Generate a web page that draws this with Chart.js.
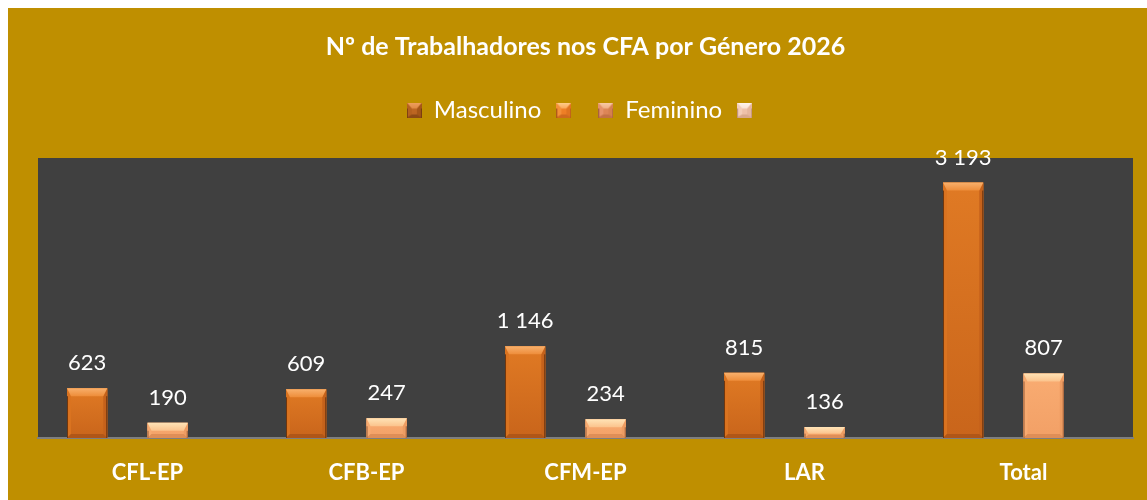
<!DOCTYPE html>
<html><head><meta charset="utf-8">
<script src="https://cdn.jsdelivr.net/npm/chart.js@4.4.1/dist/chart.umd.min.js"></script>
<style>
html,body{margin:0;padding:0;overflow:hidden;background:#fff;width:1147px;height:500px;}
#wrap{position:absolute;left:8px;top:8px;width:1154px;height:492px;background:#BF8F00;}
canvas{display:block;}
</style></head><body>
<div id="wrap"><canvas id="c" width="1154" height="492"></canvas></div>
<script>
// ---- data ----
const categories = ['CFL-EP', 'CFB-EP', 'CFM-EP', 'LAR', 'Total'];
const masculino = [623, 609, 1146, 815, 3193];
const serieVazia1 = [null, null, null, null, null];
const feminino = [190, 247, 234, 136, 807];
const serieVazia2 = [null, null, null, null, null];
const seriesLabels = ['Masculino', '', 'Feminino', ''];
const titleText = 'Nº de Trabalhadores nos CFA por Género 2026';
const yMin = 0;
const yMax = 3500;

// ---- styles ----
const FONT = 'Lato, "Open Sans", sans-serif';
const barPalettes = [
  {body1:'#E07A24', body2:'#C9651B', left:'#DA7320', right:'#C5621B', bottom:'#B05617', top1:'#F8B06C', top2:'#EE8D3A', edge:'#6E350E'},
  null,
  {body1:'#F9AC72', body2:'#F2A066', left:'#F7AA70', right:'#EE9C62', bottom:'#DF8E57', top1:'#FFE3B6', top2:'#FBC38C', edge:'#9A5C38'},
  null
];
const markerPalettes = [
  {body1:'#C46C27', body2:'#B8621F', left:'#B5611F', right:'#A55618', bottom:'#8E4A15', top1:'#EFA060', top2:'#E08A44', edge:'#7A3E10'},
  {body1:'#F2852A', body2:'#EC7C24', left:'#F39038', right:'#E07420', bottom:'#CF6A1E', top1:'#FFD08E', top2:'#FBA85A', edge:'#B05A18'},
  {body1:'#E28C5C', body2:'#DA8354', left:'#E5926A', right:'#D58050', bottom:'#C47246', top1:'#F9CCA8', top2:'#F0AE84', edge:'#A86040'},
  {body1:'#F1C6B0', body2:'#EDBEA6', left:'#F3CDB9', right:'#E6B69E', bottom:'#D9A88E', top1:'#FFF6F0', top2:'#FBE2D4', edge:'#C09480'}
];
const barColors = ['#D26C1F', 'rgba(0,0,0,0)', '#F5A66C', 'rgba(0,0,0,0)'];

function poly(ctx, pts) {
  ctx.beginPath();
  ctx.moveTo(pts[0][0], pts[0][1]);
  for (let i = 1; i < pts.length; i++) ctx.lineTo(pts[i][0], pts[i][1]);
  ctx.closePath();
  ctx.fill();
}
function bevelRect(ctx, l, t, w, h, p, dTop, dSide, dBot) {
  const r = l + w, b = t + h;
  const dt = Math.max(1, Math.min(dTop, h * 0.6));
  const ds = Math.max(1, Math.min(dSide, w / 3));
  const db = Math.max(0.5, Math.min(dBot, h * 0.3));
  let g = ctx.createLinearGradient(0, t, 0, b);
  g.addColorStop(0, p.body1); g.addColorStop(1, p.body2);
  ctx.fillStyle = g; ctx.fillRect(l, t, w, h);
  ctx.fillStyle = p.left;
  poly(ctx, [[l, t], [l + ds, t + dt], [l + ds, b - db], [l, b]]);
  ctx.fillStyle = p.right;
  poly(ctx, [[r, t], [r - ds, t + dt], [r - ds, b - db], [r, b]]);
  ctx.fillStyle = p.bottom;
  poly(ctx, [[l, b], [l + ds, b - db], [r - ds, b - db], [r, b]]);
  g = ctx.createLinearGradient(0, t, 0, t + dt);
  g.addColorStop(0, p.top1); g.addColorStop(1, p.top2);
  ctx.fillStyle = g;
  poly(ctx, [[l, t], [r, t], [r - ds, t + dt], [l + ds, t + dt]]);
  ctx.strokeStyle = p.edge; ctx.lineWidth = 1;
  ctx.beginPath();
  ctx.moveTo(l + 0.5, t + dt); ctx.lineTo(l + 0.5, b);
  ctx.moveTo(r - 0.5, t + dt); ctx.lineTo(r - 0.5, b);
  ctx.stroke();
}
function makeMarker(p) {
  const cv = document.createElement('canvas');
  cv.width = 15; cv.height = 15;
  const c = cv.getContext('2d');
  bevelRect(c, 0, 0, 15, 15, p, 6, 5, 3);
  return cv;
}
const markers = markerPalettes.map(makeMarker);

function fmt(v) { return String(v).replace(/\B(?=(\d{3})+(?!\d))/g, ' '); }

const plotBg = {
  id: 'plotBg',
  beforeDraw(chart) {
    const {ctx, chartArea: a} = chart;
    ctx.save();
    ctx.fillStyle = '#404040';
    ctx.fillRect(a.left, a.top, a.right - a.left, a.bottom - a.top);
    ctx.restore();
  }
};
const bevelBars = {
  id: 'bevelBars',
  afterDatasetsDraw(chart) {
    const ctx = chart.ctx;
    ctx.save();
    chart.data.datasets.forEach((ds, i) => {
      const p = barPalettes[i];
      if (!p) return;
      const meta = chart.getDatasetMeta(i);
      meta.data.forEach((el, j) => {
        if (ds.data[j] == null) return;
        const {x, y, base, width} = el.getProps(['x', 'y', 'base', 'width'], true);
        const t = Math.min(y, base), h = Math.abs(base - y);
        bevelRect(ctx, x - width / 2, t, width, h, p, 8, 4, 4);
      });
    });
    ctx.fillStyle = '#FFFFFF';
    ctx.font = '22px ' + FONT;
    ctx.textAlign = 'center';
    ctx.textBaseline = 'alphabetic';
    chart.data.datasets.forEach((ds, i) => {
      const meta = chart.getDatasetMeta(i);
      meta.data.forEach((el, j) => {
        const v = ds.data[j];
        if (v == null) return;
        ctx.fillText(fmt(v), el.x, el.y - 18);
      });
    });
    ctx.restore();
  }
};

function build() {
  const seriesData = [masculino, serieVazia1, feminino, serieVazia2];
  new Chart(document.getElementById('c'), {
    type: 'bar',
    data: {
      labels: categories,
      datasets: seriesData.map((d, i) => ({
        label: seriesLabels[i],
        data: d,
        backgroundColor: barColors[i],
        borderWidth: 0,
        categoryPercentage: 0.735,
        barPercentage: 1.0
      }))
    },
    options: {
      responsive: false,
      animation: false,
      events: [],
      layout: {padding: {left: 30, right: 29, top: 0, bottom: 14}},
      scales: {
        x: {
          grid: {display: false, drawTicks: false},
          border: {display: true, color: '#7F7F7F', width: 2},
          ticks: {color: '#FFFFFF', font: {family: FONT, size: 22, weight: 'bold'}, padding: 22},
          afterFit(scale) { scale.height = 48; }
        },
        y: {display: false, min: yMin, max: yMax}
      },
      plugins: {
        title: {
          display: true, text: titleText, color: '#FFFFFF',
          font: {family: FONT, size: 25, weight: 'bold', lineHeight: 1.2},
          padding: {top: 24, bottom: 21}
        },
        legend: {
          display: true, position: 'top', align: 'center',
          labels: {
            color: '#FFFFFF', font: {family: FONT, size: 24},
            usePointStyle: true, boxWidth: 15, boxHeight: 15, padding: 15,
            generateLabels(chart) {
              return chart.data.datasets.map((ds, i) => ({
                text: ds.label, datasetIndex: i, hidden: false,
                pointStyle: markers[i], fillStyle: barColors[i],
                strokeStyle: 'rgba(0,0,0,0)', lineWidth: 0, fontColor: '#FFFFFF'
              }));
            }
          }
        },
        subtitle: {
          display: true, text: '', weight: 500,
          font: {size: 1, lineHeight: 1}, padding: {top: 25, bottom: 0}
        },
        tooltip: {enabled: false}
      }
    },
    plugins: [plotBg, bevelBars]
  });
}
if (document.fonts && document.fonts.load) {
  Promise.all([
    document.fonts.load('24px Lato'), document.fonts.load('bold 24px Lato')
  ]).then(build, build);
} else build();
</script>
</body></html>
